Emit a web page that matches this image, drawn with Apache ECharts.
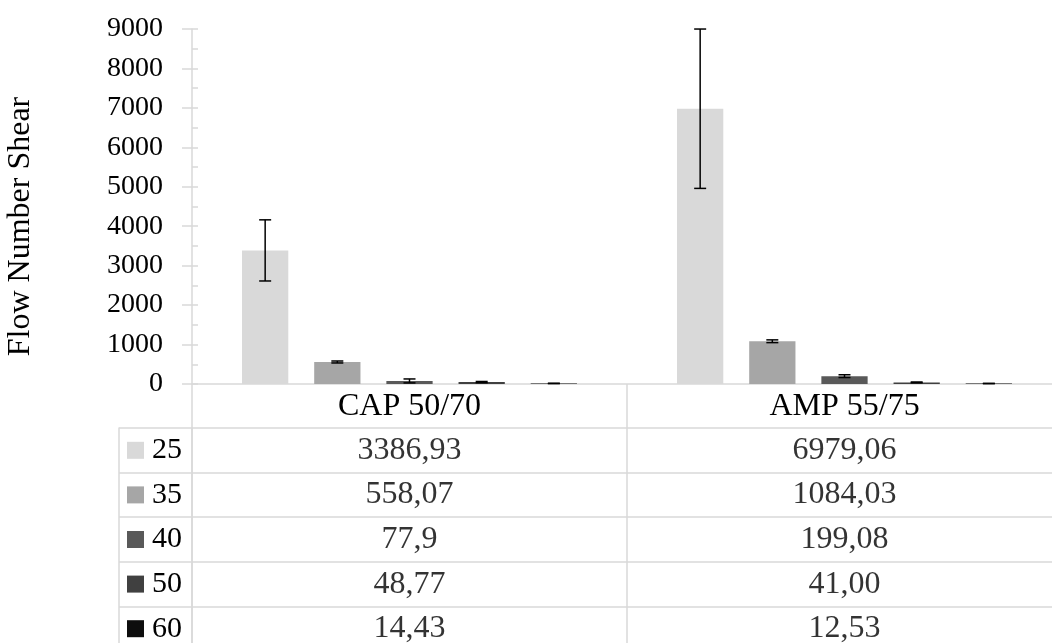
<!DOCTYPE html>
<html>
<head>
<meta charset="utf-8">
<script src="https://cdn.jsdelivr.net/npm/echarts@6/dist/echarts.min.js"></script>
<style>
  html, body { margin: 0; padding: 0; background: #fff; }
  #chart { width: 1052px; height: 643px; }
</style>
</head>
<body>
<div id="chart"></div>
<script>
// binders and test temperatures
const categories = ['CAP 50/70', 'AMP 55/75'];
const temps = ['25', '35', '40', '50', '60'];
const colors = ['#d9d9d9', '#a6a6a6', '#595959', '#404040', '#0d0d0d'];

// values as printed in the data table
const capLabels = ['3386,93', '558,07', '77,9', '48,77', '14,43'];
const ampLabels = ['6979,06', '1084,03', '199,08', '41,00', '12,53'];

// error bar half widths
const capErr = [775, 25, 50, 15, 5];
const ampErr = [2020, 35, 35, 10, 3];

const FONT = 'Liberation Serif';
const GRID_LINE = '#d9d9d9';
const CAT_GAP = 0.23, BAR_GAP = 0.56;

const toNum = s => Number(s.replace(',', '.'));
const tableLabels = [capLabels, ampLabels];
const errs = [capErr, ampErr];

let myChart = echarts.init(document.getElementById('chart'));

let series = [];
temps.forEach((t, i) => {
  series.push({
    name: t,
    type: 'bar',
    xAxisIndex: 0,
    yAxisIndex: 0,
    barCategoryGap: CAT_GAP * 100 + '%',
    barGap: BAR_GAP * 100 + '%',
    itemStyle: { color: colors[i] },
    data: categories.map((c, k) => toNum(tableLabels[k][i]))
  });
});

// error bars, shifted onto each bar of the group
temps.forEach((t, i) => {
  series.push({
    type: 'custom',
    xAxisIndex: 0,
    yAxisIndex: 0,
    z: 10,
    silent: true,
    encode: { x: 0, y: [1, 2] },
    data: categories.map((c, k) => {
      const v = toNum(tableLabels[k][i]);
      return [k, v - errs[k][i], v + errs[k][i]];
    }),
    renderItem: function (params, api) {
      const band = api.size([1, 0])[0];
      const barW = band * (1 - CAT_GAP) / (temps.length + (temps.length - 1) * BAR_GAP);
      const off = (i - (temps.length - 1) / 2) * barW * (1 + BAR_GAP);
      const lo = api.coord([api.value(0), api.value(1)]);
      const hi = api.coord([api.value(0), api.value(2)]);
      const x = lo[0] + off;
      const cap = 6;
      const style = { stroke: '#000', lineWidth: 1.5 };
      return {
        type: 'group',
        children: [
          { type: 'line', shape: { x1: x, y1: lo[1], x2: x, y2: hi[1] }, style: style },
          { type: 'line', shape: { x1: x - cap, y1: lo[1], x2: x + cap, y2: lo[1] }, style: style },
          { type: 'line', shape: { x1: x - cap, y1: hi[1], x2: x + cap, y2: hi[1] }, style: style }
        ]
      };
    }
  });
});

// data table cells
let cells = [];
temps.forEach((t, r) => {
  categories.forEach((c, k) => {
    cells.push({ value: [k, r], name: tableLabels[k][r] });
  });
});
series.push({
  type: 'scatter',
  xAxisIndex: 1,
  yAxisIndex: 2,
  silent: true,
  symbolSize: 1,
  itemStyle: { color: 'transparent' },
  label: {
    show: true,
    position: 'inside',
    formatter: '{b}',
    color: '#000',
    fontFamily: FONT,
    fontSize: 32
  },
  data: cells
});

let rich = { t: { fontFamily: FONT, fontSize: 30, color: '#000', padding: [0, 0, 0, 8] } };
colors.forEach((col, i) => {
  rich['s' + i] = { width: 17, height: 17, backgroundColor: col };
});

myChart.setOption({
  animation: false,
  backgroundColor: '#fff',
  grid: [
    { left: 192, top: 29, width: 870, height: 355, outerBoundsMode: 'none', containLabel: false },
    { left: 192, top: 428, width: 870, height: 223, outerBoundsMode: 'none', containLabel: false }
  ],
  xAxis: [
    {
      gridIndex: 0,
      type: 'category',
      data: categories,
      axisLine: { lineStyle: { color: GRID_LINE, width: 1.5 } },
      axisTick: { show: true, interval: 0, length: 262, lineStyle: { color: GRID_LINE, width: 1.5 } },
      axisLabel: { color: '#000', fontFamily: FONT, fontSize: 32, margin: 7 }
    },
    {
      gridIndex: 1,
      type: 'category',
      data: categories,
      show: false
    }
  ],
  yAxis: [
    {
      gridIndex: 0,
      type: 'value',
      min: 0,
      max: 9000,
      interval: 1000,
      name: 'Flow Number Shear',
      nameLocation: 'middle',
      nameGap: 155,
      nameTextStyle: { color: '#000', fontFamily: FONT, fontSize: 32, padding: [0, 40, 0, 0] },
      axisLine: { show: true, lineStyle: { color: GRID_LINE, width: 1.5 } },
      axisTick: { show: true, inside: true, length: 6, lineStyle: { color: GRID_LINE, width: 1.5 } },
      minorTick: { show: true, splitNumber: 2, length: 6, lineStyle: { color: GRID_LINE, width: 1.5 } },
      splitLine: { show: false },
      axisLabel: { color: '#000', fontFamily: FONT, fontSize: 28, margin: 29, formatter: v => String(v) }
    },
    {
      // outer half of the crossing major ticks
      gridIndex: 0,
      type: 'value',
      min: 0,
      max: 9000,
      interval: 1000,
      position: 'left',
      axisLine: { show: false },
      axisTick: { show: true, length: 10, lineStyle: { color: GRID_LINE, width: 1.5 } },
      axisLabel: { show: false },
      splitLine: { show: false }
    },
    {
      gridIndex: 1,
      type: 'category',
      data: temps,
      inverse: true,
      axisLine: { show: true, lineStyle: { color: GRID_LINE, width: 1.5 } },
      axisTick: { show: true, interval: 0, length: 73, lineStyle: { color: GRID_LINE, width: 1.5 } },
      splitLine: { show: true, interval: 0, lineStyle: { color: GRID_LINE, width: 1.5 } },
      axisLabel: {
        interval: 0,
        margin: 10,
        formatter: (v, i) => '{s' + i + '| }{t|' + v + '}',
        rich: rich
      }
    },
    {
      // left border of the legend column
      gridIndex: 1,
      type: 'category',
      data: temps,
      inverse: true,
      position: 'left',
      offset: 73,
      axisLine: { show: true, lineStyle: { color: GRID_LINE, width: 1.5 } },
      axisTick: { show: false },
      axisLabel: { show: false }
    }
  ],
  series: series
});
</script>
</body>
</html>
